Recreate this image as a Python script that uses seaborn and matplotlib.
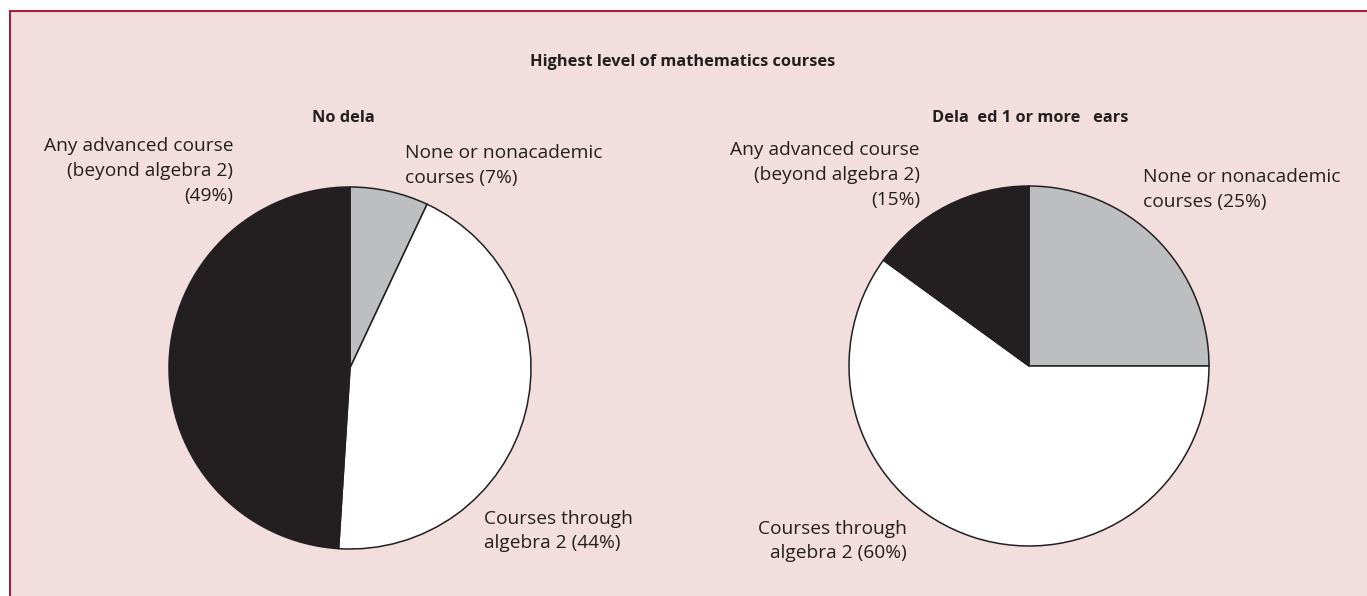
import matplotlib
matplotlib.use("Agg")
import matplotlib.pyplot as plt
import seaborn as sns
from matplotlib.patches import Rectangle

sns.set_theme(style="white")
plt.rcParams['font.family'] = ['Open Sans', 'DejaVu Sans']

categories = ["None or nonacademic courses", "Courses through algebra 2",
              "Any advanced course (beyond algebra 2)"]
no_delay = [7, 44, 49]
delayed = [25, 60, 15]
colors = ["#bcbec0", "#ffffff", "#231f20"]

W, H = 1367, 596
fig = plt.figure(figsize=(W / 100, H / 100), dpi=100)
fig.patch.set_facecolor("white")
ax = fig.add_axes([0, 0, 1, 1])

def Y(y):
    return H - y

wp = dict(edgecolor="#231f20", linewidth=1.1)
ax.pie(no_delay, colors=colors, startangle=90, counterclock=False,
       center=(350, Y(368)), radius=181, wedgeprops=wp, frame=True)
ax.pie(delayed, colors=colors, startangle=90, counterclock=False,
       center=(1029, Y(366)), radius=180, wedgeprops=wp, frame=True)
ax.set_xlim(0, W)
ax.set_ylim(0, H)
ax.set_aspect("equal")
ax.axis("off")

# background panel with border
ax.add_patch(Rectangle((9.5, -5), W + 10, Y(11) + 5, facecolor="#f2dedc",
                       edgecolor="#a3213f", linewidth=1.5, zorder=0))

tc = "#231f20"
fs = 13.8
tfs = 11.8
ax.text(683, Y(62), "Highest level of mathematics courses", ha="center", va="center",
        fontsize=tfs, fontweight="bold", color=tc)
ax.text(343, Y(118), "No dela", ha="center", va="center", fontsize=tfs,
        fontweight="bold", color=tc)
ax.text(1030, Y(118), "Dela  ed 1 or more   ears", ha="center", va="center",
        fontsize=tfs, fontweight="bold", color=tc)

ls = 1.5
ax.text(233, Y(171), f"Any advanced course\n(beyond algebra 2)\n({no_delay[2]}%)",
        ha="right", va="center", multialignment="right", fontsize=fs, color=tc, linespacing=ls)
ax.text(405, Y(165), f"None or nonacademic\ncourses ({no_delay[0]}%)",
        ha="left", va="center", multialignment="left", fontsize=fs, color=tc, linespacing=ls)
ax.text(484, Y(531), f"Courses through\nalgebra 2 ({no_delay[1]}%)",
        ha="left", va="center", multialignment="left", fontsize=fs, color=tc, linespacing=ls)

ax.text(920, Y(175), f"Any advanced course\n(beyond algebra 2)\n({delayed[2]}%)",
        ha="right", va="center", multialignment="right", fontsize=fs, color=tc, linespacing=ls)
ax.text(1143, Y(190), f"None or nonacademic\ncourses ({delayed[0]}%)",
        ha="left", va="center", multialignment="left", fontsize=fs, color=tc, linespacing=ls)
ax.text(907, Y(541), f"Courses through\nalgebra 2 ({delayed[1]}%)",
        ha="right", va="center", multialignment="right", fontsize=fs, color=tc, linespacing=ls)

fig.savefig("out.png", dpi=100)
